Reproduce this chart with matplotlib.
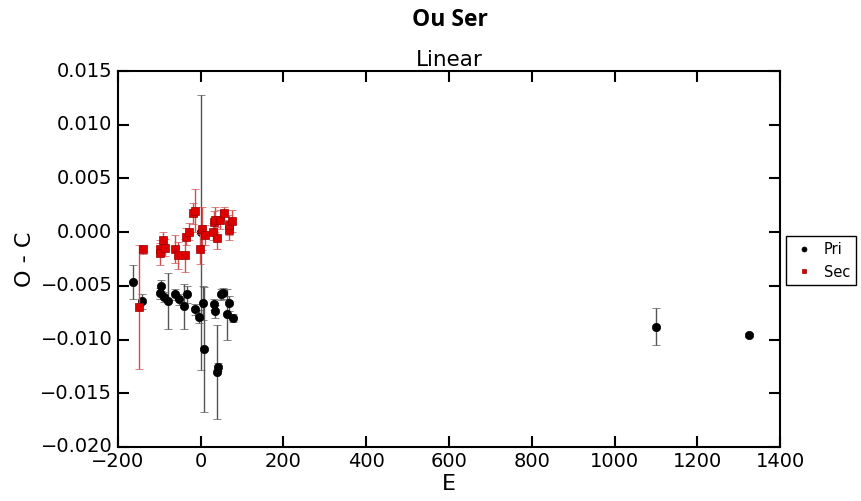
import matplotlib
matplotlib.use("Agg")
import matplotlib.pyplot as plt

# Primary minima
pri_E = [-163, -141, -98.5, -96, -88, -80, -61.4, -52.6, -41, -33, -14.7, -5, 0, 5, 7.8,
         32.8, 35, 38.5, 42.5, 49.8, 53, 62.7, 69, 78.7, 1100, 1325]
pri_OC = [-0.00462, -0.00642, -0.00568, -0.0050, -0.00605, -0.00642, -0.0058, -0.00624, -0.00689,
          -0.0058, -0.00717, -0.00788, 0.0000, -0.0066, -0.01092, -0.00673, -0.00735, -0.01303,
          -0.01257, -0.0058, -0.0057, -0.00766, -0.00664, -0.0080, -0.00881, -0.00956]
pri_err = [0.0016, 0.0007, 0.0005, 0.0005, 0.0005, 0.0026, 0.0005, 0.0005, 0.0021,
           0.0008, 0.0005, 0.0006, 0.0128, 0.0016, 0.0058, 0.0005, 0.0006, 0.0044,
           0.0004, 0.0005, 0.0005, 0.0024, 0.0007, 0.0004, 0.00174, 0.0002]

# Secondary minima
sec_E = [-148.6, -139, -98.5, -98.5, -92, -85.6, -61.4, -55, -37.3, -35.6, -28.4, -18.7, -14.7,
         -1.8, 3, 10.3, 28.8, 32, 35, 38.5, 46.5, 56, 67.5, 69, 75.5]
sec_OC = [-0.00695, -0.0016, -0.00155, -0.0019, -0.00074, -0.00143, -0.0016, -0.00217, -0.00217,
          -0.00044, 0.00006, 0.00174, 0.00198, -0.00155, 0.00031, -0.00025, 0.00006, 0.00093,
          0.00118, -0.00056, 0.00118, 0.00174, 0.00019, 0.00068, 0.00105]
sec_err = [0.0058, 0.00045, 0.0005, 0.0012, 0.0008, 0.0008, 0.0013, 0.0013, 0.0015,
           0.0008, 0.0008, 0.0010, 0.0020, 0.0014, 0.0020, 0.0009, 0.0008, 0.0010,
           0.0012, 0.0010, 0.0009, 0.0006, 0.0009, 0.0009, 0.0010]

x_ticks = [-200, 0, 200, 400, 600, 800, 1000, 1200, 1400]
y_ticks = [-0.020, -0.015, -0.010, -0.005, 0.000, 0.005, 0.010, 0.015]

plt.style.use("classic")
fig = plt.figure(figsize=(8.61, 5.01), dpi=100, facecolor="white")
ax = fig.add_axes([0.137, 0.108, 0.769, 0.750])

ax.errorbar(pri_E, pri_OC, yerr=pri_err, fmt="o", color="black", ecolor="#555555",
            elinewidth=1.0, capsize=3, markersize=6, markeredgecolor="black", label="Pri", zorder=3)
ax.errorbar(sec_E, sec_OC, yerr=sec_err, fmt="s", color="#dd0000", ecolor="#d05050",
            elinewidth=1.0, capsize=3, markersize=6, markeredgecolor="#990000", label="Sec", zorder=4)

ax.set_xlim(-200, 1400)
ax.set_ylim(-0.020, 0.015)
ax.set_xticks(x_ticks)
ax.set_yticks(y_ticks)
ax.set_yticklabels([f"{v:.3f}".replace("-", "\u2212") for v in y_ticks])
ax.set_xticklabels([f"{v}".replace("-", "\u2212") for v in x_ticks])
ax.tick_params(labelsize=14, direction="in", length=8, width=1.5, top=True, right=True)
for s in ax.spines.values():
    s.set_linewidth(1.5)
ax.set_xlabel("E", fontsize=16, labelpad=2)
ax.set_ylabel("O - C", fontsize=16, labelpad=4)
ax.set_title("Linear", fontsize=15.5, pad=4)
fig.text(0.522, 0.96, "Ou Ser", fontsize=16.5, fontweight="bold", family="Open Sans",
         ha="center", va="center")

handles, labels = ax.get_legend_handles_labels()
handles = [h[0] for h in handles]
leg = fig.legend(handles, labels, loc="upper left", bbox_to_anchor=(0.913, 0.528),
                 fontsize=10.5, numpoints=1, markerscale=0.6, frameon=True,
                 borderaxespad=0, handlelength=1.6, handletextpad=0.6, fancybox=False)
leg.get_frame().set_edgecolor("black")

fig.savefig("out.png", dpi=100, facecolor="white")
